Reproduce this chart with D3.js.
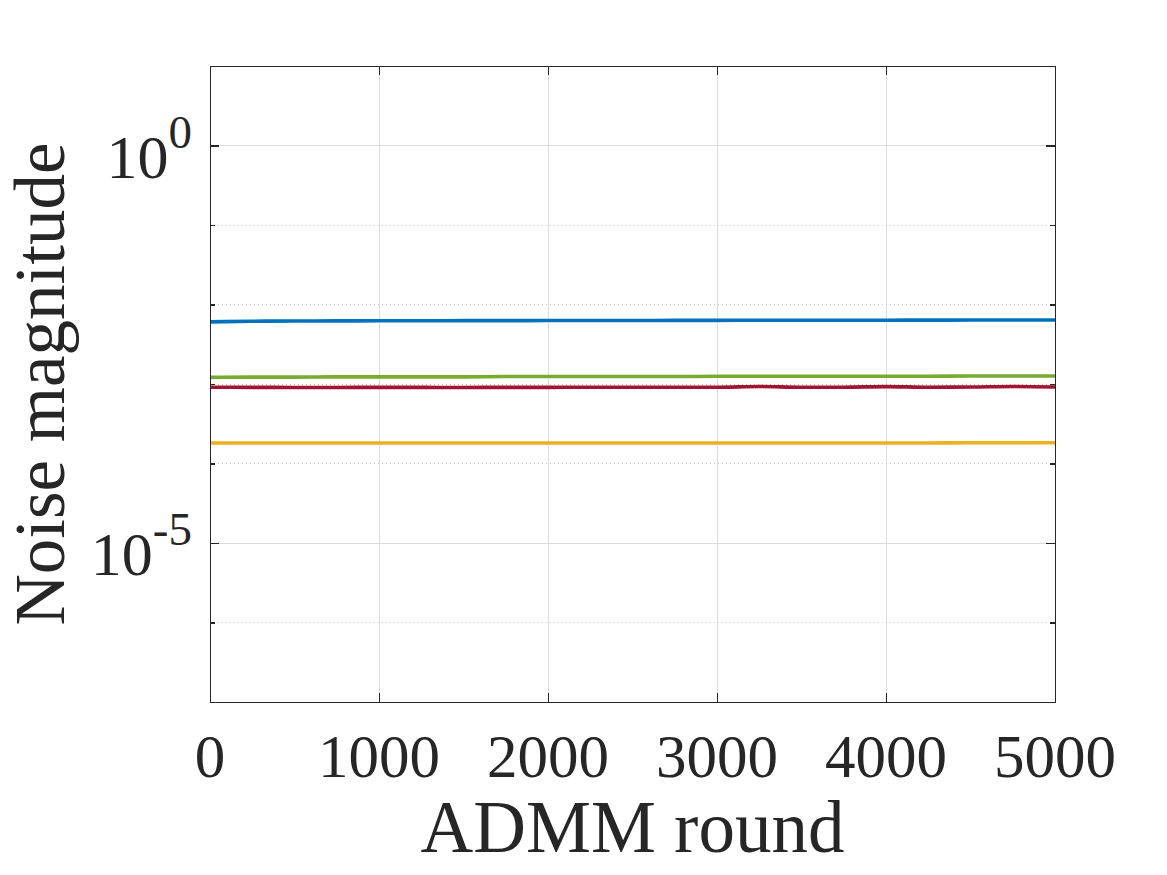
<!DOCTYPE html>
<html>
<head>
<meta charset="utf-8">
<script src="https://cdn.jsdelivr.net/npm/d3@7"></script>
<style>
  html, body { margin: 0; padding: 0; background: #ffffff; }
  svg { display: block; }
  text { font-family: "Liberation Serif", "DejaVu Serif", serif; fill: #262626; }
</style>
</head>
<body>
<svg id="chart" width="1167" height="875"></svg>
<script>
// ---- data ----
const rounds = [0, 250, 500, 750, 1000, 1250, 1500, 1750, 2000, 2250, 2500, 2750, 3000, 3250, 3500, 3750, 4000, 4250, 4500, 4750, 5000];
const blueSeries   = [6.05e-3, 6.15e-3, 6.2e-3, 6.22e-3, 6.24e-3, 6.25e-3, 6.26e-3, 6.27e-3, 6.28e-3, 6.29e-3, 6.3e-3, 6.31e-3, 6.32e-3, 6.33e-3, 6.33e-3, 6.34e-3, 6.35e-3, 6.36e-3, 6.37e-3, 6.38e-3, 6.39e-3];
const greenSeries  = [1.21e-3, 1.22e-3, 1.22e-3, 1.23e-3, 1.23e-3, 1.23e-3, 1.23e-3, 1.24e-3, 1.24e-3, 1.24e-3, 1.24e-3, 1.24e-3, 1.25e-3, 1.25e-3, 1.25e-3, 1.25e-3, 1.25e-3, 1.25e-3, 1.26e-3, 1.26e-3, 1.26e-3];
const redSeries    = [9.1e-4, 9.08e-4, 9.05e-4, 9.05e-4, 9.08e-4, 9.06e-4, 9.05e-4, 9.07e-4, 9.08e-4, 9.1e-4, 9.1e-4, 9.12e-4, 9.12e-4, 9.3e-4, 9.1e-4, 9.12e-4, 9.28e-4, 9.12e-4, 9.15e-4, 9.3e-4, 9.15e-4];
const yellowSeries = [1.81e-4, 1.81e-4, 1.81e-4, 1.81e-4, 1.81e-4, 1.81e-4, 1.81e-4, 1.81e-4, 1.81e-4, 1.81e-4, 1.81e-4, 1.81e-4, 1.81e-4, 1.81e-4, 1.81e-4, 1.81e-4, 1.81e-4, 1.81e-4, 1.82e-4, 1.82e-4, 1.82e-4];
const seriesColors = ["#0072BD", "#77AC30", "#A2142F", "#EDB120"];
const xTicks = [0, 1000, 2000, 3000, 4000, 5000];
const yMajorTicks = [1e-5, 1e0];
const yMinorTicks = [1e-7, 1e-6, 1e-4, 1e-3, 1e-2, 1e-1, 1e1];
const xLabel = "ADMM round";
const yLabel = "Noise magnitude";

// ---- layout ----
const svg = d3.select("#chart");
const L = 210, R = 1055, T = 66, B = 702;
const x = d3.scaleLinear().domain([0, 5000]).range([L, R]);
const y = d3.scaleLog().domain([1e-7, 1e1]).range([B, T]);
const axisColor = "#262626";
const gridColor = "#dcdcdc";

// grid
const grid = svg.append("g");
grid.selectAll("line.vg").data(xTicks.filter(d => d > 0 && d < 5000)).enter().append("line")
  .attr("x1", d => x(d)).attr("x2", d => x(d)).attr("y1", T).attr("y2", B)
  .attr("stroke", gridColor).attr("stroke-width", 1).attr("shape-rendering", "crispEdges");
grid.selectAll("line.hg").data(yMajorTicks).enter().append("line")
  .attr("x1", L).attr("x2", R).attr("y1", d => y(d)).attr("y2", d => y(d))
  .attr("stroke", gridColor).attr("stroke-width", 1).attr("shape-rendering", "crispEdges");
grid.selectAll("line.hm").data(yMinorTicks.filter(d => d > 1e-7 && d < 1e1)).enter().append("line")
  .attr("x1", L).attr("x2", R).attr("y1", d => y(d)).attr("y2", d => y(d))
  .attr("stroke", "#c8c8c8").attr("stroke-width", 1).attr("stroke-dasharray", "1,3")
  .attr("shape-rendering", "crispEdges");

// lines
const allSeries = [blueSeries, greenSeries, redSeries, yellowSeries];
const line = d3.line().x((d, i) => x(rounds[i])).y(d => y(d)).curve(d3.curveMonotoneX);
svg.append("g").selectAll("path").data(allSeries).enter().append("path")
  .attr("d", d => line(d))
  .attr("fill", "none")
  .attr("stroke", (d, i) => seriesColors[i])
  .attr("stroke-width", 3.6);

// axes box + ticks (inward, on all sides)
const axB = svg.append("g").attr("transform", `translate(0,${B})`)
  .call(d3.axisBottom(x).tickValues(xTicks).tickSizeInner(-9).tickSizeOuter(0).tickFormat(""));
const axT = svg.append("g").attr("transform", `translate(0,${T})`)
  .call(d3.axisTop(x).tickValues(xTicks).tickSizeInner(-9).tickSizeOuter(0).tickFormat(""));
const axL = svg.append("g").attr("transform", `translate(${L},0)`)
  .call(d3.axisLeft(y).tickValues(yMajorTicks).tickSizeInner(-9).tickSizeOuter(0).tickFormat(""));
const axR = svg.append("g").attr("transform", `translate(${R},0)`)
  .call(d3.axisRight(y).tickValues(yMajorTicks).tickSizeInner(-9).tickSizeOuter(0).tickFormat(""));
const axLm = svg.append("g").attr("transform", `translate(${L},0)`)
  .call(d3.axisLeft(y).tickValues(yMinorTicks).tickSizeInner(-5).tickSizeOuter(0).tickFormat(""));
const axRm = svg.append("g").attr("transform", `translate(${R},0)`)
  .call(d3.axisRight(y).tickValues(yMinorTicks).tickSizeInner(-5).tickSizeOuter(0).tickFormat(""));
[axB, axT, axL, axR, axLm, axRm].forEach(g => {
  g.selectAll("path.domain").attr("stroke", axisColor).attr("stroke-width", 1.2).attr("shape-rendering", "crispEdges");
  g.selectAll(".tick line").attr("stroke", axisColor).attr("stroke-width", 1.2).attr("shape-rendering", "crispEdges");
});

// x tick labels
svg.append("g").selectAll("text").data(xTicks).enter().append("text")
  .attr("x", d => x(d)).attr("y", 777)
  .attr("text-anchor", "middle")
  .attr("font-size", 61)
  .text(d => d);

// y tick labels (10^n)
const yl = svg.append("g").selectAll("text").data(yMajorTicks).enter().append("text")
  .attr("x", 192).attr("y", d => y(d) + 32)
  .attr("text-anchor", "end")
  .attr("font-size", 62);
yl.append("tspan").text("10");
yl.append("tspan").attr("dy", -30).attr("font-size", 47)
  .text(d => { const e = Math.round(Math.log10(d)); return e < 0 ? "-" + (-e) : String(e); });

// axis titles
svg.append("text")
  .attr("x", (L + R) / 2).attr("y", 852)
  .attr("text-anchor", "middle")
  .attr("font-size", 73)
  .text(xLabel);
svg.append("text")
  .attr("transform", `translate(64,${(T + B) / 2}) rotate(-90)`)
  .attr("text-anchor", "middle")
  .attr("font-size", 71)
  .text(yLabel);
</script>
</body>
</html>
